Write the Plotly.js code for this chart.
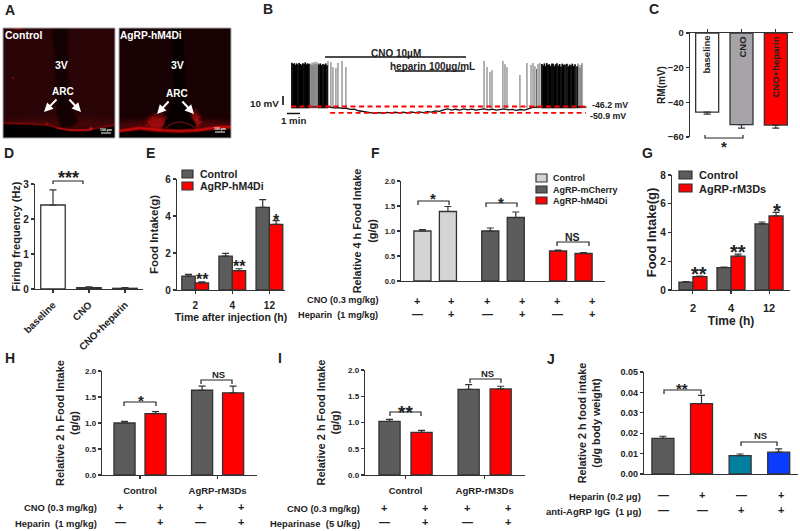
<!DOCTYPE html>
<html><head><meta charset="utf-8">
<script src="https://cdn.plot.ly/plotly-3.0.1.min.js"></script>
<style>html,body{margin:0;padding:0;background:#fff}#chart{width:800px;height:531px}</style>
</head><body><div id="chart"></div>
<script>
// ---------- values ----------
// B: electrophysiology trace (minutes, mV)
const restBefore = -46.2, restAfter = -50.9;
const baselineT = [0,0.5,1,1.5,2,2.5,2.9,3.2,3.5,3.8,4.1,4.4,4.7,5,5.3,5.6,5.9,6.2,6.5,6.8,7.1,7.4,7.7,8,8.3,8.6,8.9,9.2,9.5,9.8,10.1,10.4,10.7,11,11.3,11.6,11.9,12.2,12.5,12.8,13.1,13.4,13.7,14,14.3,14.6,14.9,15.2,15.5,15.8,16.1,16.4,16.7,17,17.3,17.6,17.9,18.2,18.6,19,19.5,20,20.5,21,21.5,21.9];
const baselineV = [-46.3,-46.4,-46.2,-46.5,-46.3,-46.6,-46.7,-47.2,-47.1,-47.6,-47.5,-48.3,-48.2,-49.3,-49.8,-50.6,-50.9,-51.2,-50.7,-51.1,-50.5,-50.9,-50.4,-50.8,-50.3,-50.9,-50.2,-50.7,-50.1,-50.6,-50,-50.3,-49.4,-49.7,-48.6,-48,-48.9,-48.2,-48.8,-47.9,-48.7,-48.1,-48.9,-48.3,-47.9,-48.6,-48.2,-48.9,-48.4,-47.9,-48.7,-48.3,-49,-48.4,-48.8,-47.6,-46.8,-46.6,-46.5,-46.7,-46.4,-46.7,-46.5,-46.6,-46.4,-46.6];
const sparseSpikeT = [1.41,1.49,1.56,1.63,1.7,1.78,1.85,1.93,2,2.74,2.96,3.11,3.33,3.48,3.78,4.07,14.3,14.52,14.74,14.89,15.7,15.85,16,16.96,17.48,17.78,17.93,18.07,18.19,18.3,18.44,21.26,21.33,21.41,21.49,21.56];
const sparseSpikeV = [-15,-16,-14.5,-16,-14,-15.5,-13.8,-15.2,-14.6,-13.2,-14,-17.6,-18.3,-14.7,-13.2,-17.6,-13.2,-17.6,-21.2,-19.8,-13.2,-15.5,-17.6,-23.4,-14.7,-16,-14.7,-17,-19,-15.5,-14.7,-15,-16,-18,-16,-14.7];
const denseSpikeT = [0.07,0.16,0.25,0.34,0.43,0.52,0.61,0.7,0.79,0.88,0.97,1.06,1.15,1.24,1.33,2.07,2.17,2.27,2.37,2.47,2.57,2.67,18.59,18.68,18.77,18.86,18.95,19.04,19.13,19.22,19.33,19.41,19.5,19.6,19.7,19.8,19.9,20,20.1,20.2,20.3,20.44,20.54,20.64,20.74,20.84,20.94,21.04,21.19];
const denseSpikeV = [-14.5,-15.5,-14.8,-16,-15,-15.8,-14.6,-15.4,-16,-14.8,-15.2,-14.2,-15.7,-14.9,-15.5,-15.8,-15,-16.2,-15.4,-15.9,-15,-16.4,-15.5,-16.6,-15,-17,-14.8,-16.2,-15.5,-16.8,-15,-15.2,-17,-15.6,-14.9,-16.6,-15.4,-17.2,-15.2,-16,-15.8,-15.3,-17.1,-15.8,-16.4,-15.2,-16.9,-15.6,-17];
const spikeFoot = -47.5;
// C
const cCategories = ['baseline','CNO','CNO+heparin'];
const cValues = [-45.6,-52.9,-53.1];
const cErrors = [1.2,2.0,1.8];
// D
const dCategories = ['baseline','CNO','CNO+heparin'];
const dValues = [2.4,0.04,0.02];
const dErrors = [0.43,0.02,0.02];
// E
const eCategories = ['2','4','12'];
const eControl = [0.75,1.83,4.47];
const eControlErr = [0.1,0.15,0.42];
const eHm4di = [0.38,1.05,3.55];
const eHm4diErr = [0.06,0.1,0.2];
// F
const fControl = [1.0,1.39];
const fControlErr = [0.03,0.1];
const fCherry = [1.0,1.27];
const fCherryErr = [0.06,0.11];
const fHm4di = [0.6,0.55];
const fHm4diErr = [0.02,0.02];
// G
const gCategories = ['2','4','12'];
const gControl = [0.55,1.55,4.6];
const gControlErr = [0.03,0.05,0.13];
const gRm3ds = [0.93,2.35,5.15];
const gRm3dsErr = [0.03,0.14,0.25];
// H, I
const groupLabels = ['Control','AgRP-rM3Ds'];
const hValues = [1.0,1.18,1.63,1.58];
const hErrors = [0.03,0.04,0.08,0.13];
const iValues = [1.02,0.81,1.63,1.64];
const iErrors = [0.04,0.04,0.09,0.05];
// J
const jValues = [0.0175,0.0345,0.009,0.0107];
const jErrors = [0.001,0.004,0.0008,0.0016];
// sign rows
const plusAll = ['+','+','+','+'];
const minusPlus = ['—','+','—','+'];
const minusMinusPlusPlus = ['—','—','+','+'];

// ---------- helpers ----------
const W = 800, H = 531, FAM = '"Liberation Sans", Arial, sans-serif', INK = '#222';
const GREY = '#5c5c5c', RED = '#ff0000', LIGHT = '#d4d4d4', CGREY = '#a6a4a8', TEAL = '#007f9e', BLUE = '#0a3cff';
const px = v => v / W, py = v => 1 - v / H;
const bold = (size, color) => ({family: FAM, size, color: color || INK, weight: 700});
const data = [], shapes = [], annotations = [], images = [];
const layout = {
  width: W, height: H, margin: {l:0,r:0,t:0,b:0}, paper_bgcolor:'#fff', plot_bgcolor:'rgba(0,0,0,0)',
  showlegend:false, barmode:'overlay', font: bold(10), shapes, annotations, images
};
function addAxes(n, xs, ys, xo, yo) {
  const base = {showgrid:false, zeroline:false, showline:true, linecolor:'#333', linewidth:1.2,
    ticks:'outside', ticklen:3, tickcolor:'#333', tickwidth:1.1, fixedrange:true};
  layout['xaxis'+n] = Object.assign({}, base, {domain:[px(xs[0]),px(xs[1])], anchor:'y'+n}, xo);
  layout['yaxis'+n] = Object.assign({}, base, {domain:[py(ys[1]),py(ys[0])], anchor:'x'+n}, yo);
}
function barTrace(n, x, y, err, color, width, offset, down) {
  const zero = err.map(() => 0);
  const t = {type:'bar', xaxis:'x'+n, yaxis:'y'+n, x, y, width, cliponaxis:false,
    marker:{color, line:{color:'#333', width:1.3}},
    error_y:{type:'data', symmetric:false, array: down ? zero : err, arrayminus: down ? err : zero,
      color:'#333', thickness:1.2, width:3.5}, hoverinfo:'skip'};
  if (offset !== undefined) t.offset = offset;
  data.push(t);
}
const pairPositions = (nGroups, unit) => Array.from({length:nGroups*2}, (_, k) => Math.floor(k/2)*unit + k%2);
function txt(x, y, text, size, o) {
  o = o || {};
  annotations.push({xref:'paper', yref:'paper', x:px(x), y:py(y), text, showarrow:false,
    xanchor:o.anchor||'center', yanchor:'middle', textangle:o.angle||0, font:bold(size,o.color), borderpad:0, borderwidth:0});
}
// asterisks sit high in their line box: y is where the glyph itself should be centred
const star = (x, y, text, size) => txt(x, y + size*0.22, text, size);
function line(x0,y0,x1,y1,w,color,dash) {
  shapes.push({type:'line', xref:'paper', yref:'paper', x0:px(x0), y0:py(y0), x1:px(x1), y1:py(y1),
    line:{color:color||'#222', width:w||1.2, dash:dash||'solid'}});
}
function bracket(x0, x1, y, drop) {
  shapes.push({type:'path', xref:'paper', yref:'paper',
    path:`M${px(x0)},${py(y+drop)}L${px(x0)},${py(y)}L${px(x1)},${py(y)}L${px(x1)},${py(y+drop)}`,
    line:{color:'#222', width:1.2}});
}
function swatch(x0, x1, y0, y1, fill) {
  shapes.push({type:'rect', xref:'paper', yref:'paper', x0:px(x0), x1:px(x1), y0:py(y1), y1:py(y0),
    fillcolor:fill, line:{color:'#333', width:1.2}});
}
function signRow(xs, y, signs, size) { signs.forEach((s,i) => txt(xs[i], y, s, size||11)); }
function arrow(x0,y0,x1,y1) {
  annotations.push({xref:'paper', yref:'paper', x:px(x1), y:py(y1), axref:'pixel', ayref:'pixel',
    ax:x0-x1, ay:y0-y1, text:'', showarrow:true, arrowhead:2, arrowsize:0.9, arrowwidth:2, arrowcolor:'#fff'});
}

// ---------- A: micrographs (background pictures) ----------
function micrograph(draw) {
  const c = document.createElement('canvas'); c.width = 336; c.height = 330;
  const g = c.getContext('2d'); g.scale(3,3); draw(g); return c.toDataURL('image/png');
}
function poly(g, pts, fill, blur) {
  g.save(); g.filter = `blur(${(blur||0)*3}px)`; g.fillStyle = fill; g.beginPath();
  pts.forEach((p,i) => i ? g.lineTo(p[0],p[1]) : g.moveTo(p[0],p[1])); g.closePath(); g.fill(); g.restore();
}
function stroke(g, pts, color, w, blur) {
  g.save(); g.filter = `blur(${(blur||0)*3}px)`; g.strokeStyle = color; g.lineWidth = w; g.lineJoin='round'; g.beginPath();
  pts.forEach((p,i) => i ? g.lineTo(p[0],p[1]) : g.moveTo(p[0],p[1])); g.stroke(); g.restore();
}
function blob(g, x, y, rx, ry, color, blur) {
  g.save(); g.filter = `blur(${(blur||0)*3}px)`; g.fillStyle = color; g.beginPath(); g.ellipse(x,y,rx,ry,0,0,7); g.fill(); g.restore();
}
const leftImage = micrograph(g => {
  g.fillStyle = '#2a0507'; g.fillRect(0,0,112,110);
  blob(g, 56, 96, 70, 6, 'rgba(130,10,10,0.3)', 3);
  blob(g, 15, 0, 5, 1.5, '#b01010', 0.8);
  blob(g, 10, 50, 0.8, 0.8, '#c01515', 0.3);
  poly(g, [[49,-2],[65,-2],[64,30],[65,60],[68,80],[75,93],[70,98],[58,100],[55,90],[53,60],[52,30]], '#130103', 1.3);
  poly(g, [[-2,96],[30,97],[45,98],[55,101],[68,103],[85,103],[100,100],[114,98],[114,112],[-2,112]], '#020000', 0.5);
  stroke(g, [[0,95],[30,96],[45,97],[55,100],[68,102],[85,102],[100,99],[112,97]], '#a80808', 1, 0.5);
  stroke(g, [[54,100],[68,102.5],[88,102]], '#f01010', 1.1, 0.5);
  blob(g, 88, 100.5, 2, 1, '#f01818', 0.5);
  blob(g, 44, 95.5, 2, 1, '#a01010', 0.6);
});
const rightImage = micrograph(g => {
  g.fillStyle = '#190204'; g.fillRect(0,0,112,110);
  blob(g, 56, 98, 70, 6, 'rgba(150,10,10,0.45)', 3);
  blob(g, 38, 94, 10, 7, 'rgba(225,15,15,0.55)', 2.2);
  blob(g, 76, 92, 5, 8, 'rgba(225,15,15,0.6)', 1.8);
  [[30,94],[34,90],[38,97],[41,92],[44,96],[36,86],[47,90],[27,98],[43,86],[33,97],[48,96],[74,86],[78,92],[80,95],[75,97],[72,92],[81,89],[77,82],[82,94]]
    .forEach(p => blob(g, p[0], p[1], 0.6, 0.6, '#ff2020', 0.3));
  poly(g, [[52,-2],[64,-2],[65,30],[66,60],[66,72],[70,85],[77,96],[76,103],[42,103],[46,94],[52,80],[55,65],[54,30]], '#060000', 0.7);
  stroke(g, [[46,100],[54,95],[62,94],[70,96],[76,100]], '#7a1414', 1.1, 0.4);
  poly(g, [[-2,105],[20,103],[40,105],[60,106],[80,105],[100,102],[114,102],[114,112],[-2,112]], '#020000', 0.4);
  stroke(g, [[0,103],[20,100],[40,102],[60,103],[80,102],[100,99],[112,99]], '#ee0a0a', 2.2, 0.7);
});
images.push(
  {source:leftImage, xref:'paper', yref:'paper', x:px(3), y:py(28), sizex:112/W, sizey:110/H, sizing:'stretch', xanchor:'left', yanchor:'top', layer:'below'},
  {source:rightImage, xref:'paper', yref:'paper', x:px(119), y:py(28), sizex:112/W, sizey:110/H, sizing:'stretch', xanchor:'left', yanchor:'top', layer:'below'}
);
[[3,115],[119,231]].forEach(b => shapes.push({type:'rect', xref:'paper', yref:'paper', x0:px(b[0]), x1:px(b[1]), y0:py(138), y1:py(28), line:{color:'#aaa', width:1}}));
txt(5, 35, 'Control', 10.5, {anchor:'left', color:'#fff'});
txt(120, 35, 'AgRP-hM4Di', 10.2, {anchor:'left', color:'#fff'});
txt(61, 65, '3V', 10.5, {color:'#fff'}); txt(177, 65, '3V', 10.5, {color:'#fff'});
txt(63, 91, 'ARC', 10, {color:'#fff'}); txt(177, 94, 'ARC', 10, {color:'#fff'});
arrow(58,98,44,112); arrow(68,98,81,112); arrow(170,100,157,114); arrow(181,100,194,114);
txt(106, 130, '100 µm', 3.5, {color:'#fff'}); line(101,133,111,133,1,'#fff');
txt(220, 129, '100 µm', 3.5, {color:'#fff'}); line(215,132,225,132,1,'#fff');

// ---------- B: trace ----------
layout.xaxis1 = {domain:[px(285),px(595)], range:[-0.444,22.52], visible:false, anchor:'y1', fixedrange:true};
layout.yaxis1 = {domain:[py(120),py(55)], range:[-56,-8.9], visible:false, anchor:'x1', fixedrange:true};
function spikes(ts, vs) {
  const x = [], y = [];
  ts.forEach((t,i) => { x.push(t,t,null); y.push(spikeFoot, vs[i], null); });
  return {x, y};
}
data.push(Object.assign(spikes(sparseSpikeT, sparseSpikeV), {type:'scatter', mode:'lines', xaxis:'x1', yaxis:'y1', line:{color:'#666', width:1}, hoverinfo:'skip'}));
data.push(Object.assign(spikes(denseSpikeT, denseSpikeV), {type:'scatter', mode:'lines', xaxis:'x1', yaxis:'y1', line:{color:'#000', width:1.7}, hoverinfo:'skip'}));
data.push({type:'scatter', mode:'lines', xaxis:'x1', yaxis:'y1', x:baselineT, y:baselineV, line:{color:'#111', width:1.3}, hoverinfo:'skip'});
shapes.push({type:'line', xref:'x1', yref:'y1', x0:0, x1:22, y0:restBefore, y1:restBefore, line:{color:'#f00', width:1.8, dash:'5px,3.5px'}});
shapes.push({type:'line', xref:'x1', yref:'y1', x0:2.9, x1:21.85, y0:restAfter, y1:restAfter, line:{color:'#f00', width:1.8, dash:'5px,3.5px'}});
txt(592, 105.5, restBefore + ' mV', 8.8, {anchor:'left'});
txt(590, 116, restAfter + ' mV', 8.8, {anchor:'left'});
line(325,57,466,57,1.3,'#111'); txt(396, 53, 'CNO 10µM', 10);
line(395,71,465,71,1.3,'#111'); txt(432, 67, 'heparin 100µg/mL', 10);
line(283,96,283,105,1.6,'#111'); txt(279, 103, '10 mV', 9.8, {anchor:'right'});
line(287,113.5,300,113.5,1.5,'#111'); txt(293, 121, '1 min', 9.7);

// ---------- C ----------
addAxes(2, [690,793], [33,137],
  {type:'category', side:'top', range:[-0.5,2.5], showticklabels:false, categoryorder:'array', categoryarray:cCategories},
  {range:[-60,0], tickvals:[0,-20,-40,-60], tickfont:bold(9.5), title:{text:'RM(mV)', font:bold(10), standoff:0}});
barTrace(2, cCategories, cValues, cErrors, ['#ffffff',CGREY,RED], 0.67, undefined, true);
txt(706.5, 55, cCategories[0], 9.5, {angle:-90}); txt(741.5, 47, cCategories[1], 9.5, {angle:-90}); txt(775.5, 67, cCategories[2], 9.5, {angle:-90});
shapes.push({type:'path', xref:'paper', yref:'paper', path:`M${px(705)},${py(135)}L${px(705)},${py(138)}L${px(743)},${py(138)}L${px(743)},${py(135)}`, line:{color:'#222', width:1.2}});
star(724, 143, '*', 15);

// ---------- D ----------
addAxes(3, [35,143], [184,289],
  {type:'category', range:[-0.5,2.5], tickangle:-45, tickfont:bold(10), ticklabelstandoff:2, categoryorder:'array', categoryarray:dCategories},
  {range:[0,3], tickvals:[0,1,2,3], tickfont:bold(10), title:{text:'Firing frequency (Hz)', font:bold(11), standoff:0}});
barTrace(3, dCategories, dValues, dErrors, '#ffffff', 0.68);
bracket(53,83,181,3); star(68, 174, '***', 18);

// ---------- E ----------
addAxes(4, [177,285], [179,290],
  {type:'category', range:[-0.49,2.42], tickfont:bold(10), ticklabelstandoff:3, categoryorder:'array', categoryarray:eCategories,
   title:{text:'Time after injection (h)', font:bold(10.5), standoff:0}},
  {range:[0,6], tickvals:[0,2,4,6], tickfont:bold(10), title:{text:'Food Intake(g)', font:bold(11.5), standoff:4}});
barTrace(4, eCategories, eControl, eControlErr, GREY, 0.36, -0.36);
barTrace(4, eCategories, eHm4di, eHm4diErr, RED, 0.36, 0);
star(202, 276, '**', 16); star(239, 263, '**', 16); star(276, 217, '*', 16);
swatch(182,193,170,178,GREY); swatch(182,193,182,190,RED);
txt(200, 174, 'Control', 10.5, {anchor:'left'}); txt(200, 186, 'AgRP-hM4Di', 10.5, {anchor:'left'});

// ---------- F ----------
const fPos = pairPositions(3, 2.66);
addAxes(5, [401,605], [181,281],
  {range:[-0.84,7.16], showticklabels:false, ticks:''},
  {range:[0,2], tickvals:[0,0.5,1,1.5,2], tickformat:'.1f', tickfont:bold(7.5),
   title:{text:'Relative 4 h Food Intake<br>(g/g)', font:bold(10.9), standoff:6}});
barTrace(5, fPos.slice(0,2), fControl, fControlErr, LIGHT, 0.67);
barTrace(5, fPos.slice(2,4), fCherry, fCherryErr, GREY, 0.67);
barTrace(5, fPos.slice(4,6), fHm4di, fHm4diErr, RED, 0.67);
bracket(418,449,201,4); star(433, 195, '*', 15);
bracket(486,517,203,4); star(501, 199, '*', 15);
bracket(557,589,242,4); txt(572, 237, 'NS', 10.5);
swatch(536,547,174,182,LIGHT); swatch(536,547,186,193,GREY); swatch(536,547,197,204,RED);
txt(553, 178, 'Control', 9, {anchor:'left'}); txt(553, 190, 'AgRP-mCherry', 9, {anchor:'left'}); txt(553, 201, 'AgRP-hM4Di', 9, {anchor:'left'});
txt(378, 300, 'CNO (0.3 mg/kg)', 9.2, {anchor:'right'}); txt(378, 315, 'Heparin  (1 mg/kg)', 9.2, {anchor:'right'});
signRow([417,451,487,522,557,592], 301, ['+','+','+','+','+','+']);
signRow([417,451,487,522,557,592], 314, ['—','+','—','+','—','+']);

// ---------- G ----------
addAxes(6, [672,790], [175,290],
  {type:'category', range:[-0.55,2.55], tickfont:bold(11), ticklabelstandoff:5, categoryorder:'array', categoryarray:gCategories,
   title:{text:'Time (h)', font:bold(12), standoff:2}},
  {range:[0,8], tickvals:[0,2,4,6,8], tickfont:bold(10), title:{text:'Food Intake(g)', font:bold(13), standoff:0}});
barTrace(6, gCategories, gControl, gControlErr, GREY, 0.368, -0.368);
barTrace(6, gCategories, gRm3ds, gRm3dsErr, RED, 0.368, 0);
star(699, 270, '**', 20); star(738, 248, '**', 20); star(777, 207, '*', 20);
swatch(679,692,171,179,GREY); swatch(679,692,184,192,RED);
txt(699, 175, 'Control', 11, {anchor:'left'}); txt(699, 189, 'AgRP-rM3Ds', 11, {anchor:'left'});

// ---------- H ----------
const hPos = pairPositions(2, 2.5);
addAxes(7, [102,257], [371,475],
  {range:[-0.726,4.27], tickvals:[0.5,3], ticktext:groupLabels, tickfont:bold(9.5), ticklabelstandoff:3},
  {range:[0,2], tickvals:[0,0.5,1,1.5,2], tickformat:'.1f', tickfont:bold(8),
   title:{text:'Relative 2 h Food Intake<br>(g/g)', font:bold(11), standoff:4}});
barTrace(7, hPos, hValues, hErrors, [GREY,RED,GREY,RED], 0.68);
bracket(124,156,402,4); star(141, 397, '*', 15);
bracket(201,232,380,4); txt(218, 374, 'NS', 9.5);
txt(97, 507, 'CNO (0.3 mg/kg)', 9.4, {anchor:'right'}); txt(97, 523, 'Heparin  (1 mg/kg)', 9.4, {anchor:'right'});
signRow([120,160,200,241], 507, plusAll); signRow([120,160,200,241], 522, minusPlus);

// ---------- I ----------
const iPos = pairPositions(2, 2.47);
addAxes(8, [365,525], [370,475],
  {range:[-0.766,4.23], tickvals:[0.5,2.97], ticktext:groupLabels, tickfont:bold(9.5), ticklabelstandoff:3},
  {range:[0,2], tickvals:[0,0.5,1,1.5,2], tickformat:'.1f', tickfont:bold(8),
   title:{text:'Relative 2 h Food Intake<br>(g/g)', font:bold(11), standoff:6}});
barTrace(8, iPos, iValues, iErrors, [GREY,RED,GREY,RED], 0.66);
bracket(390,421,412,4); star(405, 408, '**', 19);
bracket(470,501,379,4); txt(487, 373, 'NS', 9.5);
txt(360, 508, 'CNO (0.3 mg/kg)', 9.4, {anchor:'right'}); txt(360, 523, 'Heparinase  (5 U/kg)', 9.4, {anchor:'right'});
signRow([384,425,467,508], 508, plusAll); signRow([384,425,467,508], 522, minusPlus);

// ---------- J ----------
addAxes(9, [644,798], [372,474],
  {range:[-0.49,3.5], showticklabels:false, ticks:''},
  {range:[0,0.05], tickvals:[0,0.01,0.02,0.03,0.04,0.05], tickformat:'.2f', tickfont:bold(9),
   title:{text:'Relative 2 h food intake<br>(g/g body weight)', font:bold(10.8), standoff:17}});
barTrace(9, [0,1,2,3], jValues, jErrors, [GREY,RED,TEAL,BLUE], 0.57);
bracket(664,701,390,4); star(682, 385, '**', 15);
bracket(741,777,442,4); txt(760, 435, 'NS', 9.5);
txt(641, 496, 'Heparin (0.2 μg)', 9.5, {anchor:'right'}); txt(641, 511, 'anti-AgRP IgG  (1 μg)', 9.5, {anchor:'right'});
signRow([663,702,741,781], 495, minusPlus); signRow([663,702,741,781], 510, minusMinusPlusPlus);

// ---------- panel letters ----------
[['A',10,10],['B',268,9],['C',654,9],['D',9,153],['E',150,153],['F',375,153],['G',647,153],['H',10,358],['I',280,358],['J',551,359]]
  .forEach(l => txt(l[1], l[2], l[0], 14));

Plotly.newPlot('chart', data, layout, {displayModeBar:false, staticPlot:true});
</script></body></html>
